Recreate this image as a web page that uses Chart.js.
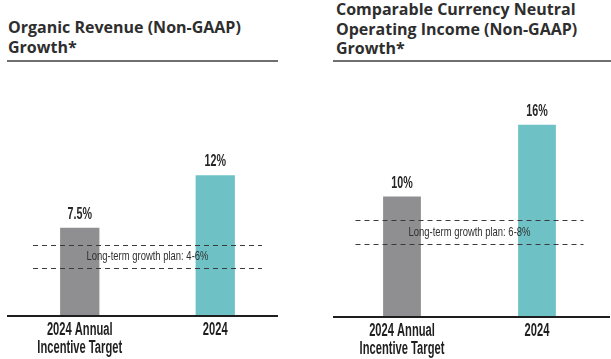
<!DOCTYPE html>
<html>
<head>
<meta charset="utf-8">
<script src="https://cdn.jsdelivr.net/npm/chart.js@4"></script>
<style>
  html, body { margin: 0; padding: 0; background: #fff; }
  body { width: 611px; height: 359px; position: relative; overflow: hidden; }
  .title {
    position: absolute;
    font-family: "Open Sans", Lato, sans-serif;
    font-weight: bold;
    font-size: 16px;
    line-height: 19.5px;
    color: #2e2e2e;
    white-space: nowrap;
  }
  .rule { position: absolute; top: 60px; height: 2px; background: #6f6f6f; }
  canvas { position: absolute; top: 70px; }
</style>
</head>
<body>
<div class="title" style="left:8px; top:18px;">Organic Revenue (Non-GAAP)<br>Growth*</div>
<div class="rule" style="left:7px; width:271px;"></div>
<div class="title" style="left:336px; top:0px;">Comparable Currency Neutral<br>Operating Income (Non-GAAP)<br>Growth*</div>
<div class="rule" style="left:333px; width:278px;"></div>

<canvas id="revenueChart" width="300" height="289" style="left:0; width:300px; height:289px;"></canvas>
<canvas id="incomeChart" width="311" height="289" style="left:300px; width:311px; height:289px;"></canvas>

<script>
// ------- data -------
const categories = [['2024 Annual', 'Incentive Target'], '2024'];
const barColors = ['#8f8f92', '#6ec2c6'];

const revenueValues = [7.5, 12];
const revenueRange = [4, 6];

const incomeValues = [10, 16];
const incomeRange = [6, 8];

const baseFont = '"Liberation Sans", Arial, sans-serif';

// the print font is a narrow condensed face, so squeeze a normal one
function narrowText(ctx, text, x, y, size, weight, squeeze) {
  ctx.save();
  ctx.font = (weight || 'normal') + ' ' + size + 'px ' + baseFont;
  ctx.translate(x, y);
  ctx.scale(squeeze, 1);
  ctx.textAlign = 'center';
  ctx.fillText(text, 0, 0);
  ctx.restore();
}

// baseline, value labels, category labels and the long-term plan band
const overlayPlugin = {
  id: 'overlay',
  afterDatasetsDraw(chart, args, opts) {
    const ctx = chart.ctx;
    const area = chart.chartArea;
    const y = chart.scales.y;
    const x = chart.scales.x;
    const meta = chart.getDatasetMeta(0);
    ctx.save();

    // value labels above bars
    ctx.fillStyle = '#262626';
    ctx.textBaseline = 'alphabetic';
    meta.data.forEach((bar, i) => {
      narrowText(ctx, chart.data.datasets[0].data[i] + '%', bar.x, bar.y - 9, 17, 'bold', 0.63);
    });

    // category labels under the axis
    ctx.fillStyle = '#1f1f1f';
    ctx.textBaseline = 'middle';
    chart.data.labels.forEach((lab, i) => {
      const lines = Array.isArray(lab) ? lab : [lab];
      const px = x.getPixelForValue(i);
      lines.forEach((ln, j) => {
        narrowText(ctx, ln, px, area.bottom + 15 + j * 18, 18, 'bold', 0.62);
      });
    });

    // dashed band lines
    const x0 = area.left + opts.dashInset;
    const x1 = area.right - opts.dashInset;
    ctx.strokeStyle = '#3a3a3a';
    ctx.lineWidth = 1;
    ctx.setLineDash([5, 4]);
    opts.range.forEach(v => {
      const py = Math.round(y.getPixelForValue(v)) + 0.5;
      ctx.beginPath();
      ctx.moveTo(x0, py);
      ctx.lineTo(x1, py);
      ctx.stroke();
    });
    ctx.setLineDash([]);

    // band label
    const midY = (y.getPixelForValue(opts.range[0]) + y.getPixelForValue(opts.range[1])) / 2;
    ctx.fillStyle = '#303030';
    ctx.textBaseline = 'middle';
    narrowText(ctx, 'Long-term growth plan: ' + opts.range[0] + '-' + opts.range[1] + '%', (x0 + x1) / 2, midY, 13.5, 'normal', 0.7);

    // baseline
    ctx.strokeStyle = '#1e1e1e';
    ctx.lineWidth = 2;
    ctx.beginPath();
    ctx.moveTo(area.left + opts.baseFrom, area.bottom + 1);
    ctx.lineTo(area.right + opts.baseTo, area.bottom + 1);
    ctx.stroke();
    ctx.restore();
  }
};

function makeChart(id, values, range, layout) {
  new Chart(document.getElementById(id).getContext('2d'), {
    type: 'bar',
    data: {
      labels: categories,
      datasets: [{
        data: values,
        backgroundColor: barColors,
        categoryPercentage: 1,
        barPercentage: layout.barPct
      }]
    },
    options: {
      responsive: false,
      animation: false,
      layout: { padding: layout.padding },
      plugins: {
        legend: { display: false },
        tooltip: { enabled: false },
        overlay: { range: range, dashInset: 21, baseFrom: layout.baseFrom, baseTo: layout.baseTo }
      },
      scales: {
        x: {
          grid: { display: false, drawTicks: false },
          border: { display: false },
          ticks: { display: false },
          afterFit(axis) { axis.height = layout.axisHeight; }
        },
        y: {
          display: false,
          min: 0,
          max: 20
        }
      }
    },
    plugins: [overlayPlugin]
  });
}

makeChart('revenueChart', revenueValues, revenueRange, {
  padding: { left: 12, right: 17, top: 12, bottom: 0 },
  axisHeight: 44,
  barPct: 0.29,
  baseFrom: -5,
  baseTo: -5
});

makeChart('incomeChart', incomeValues, incomeRange, {
  padding: { left: 34.5, right: 6.5, top: 7, bottom: 0 },
  axisHeight: 43,
  barPct: 0.28,
  baseFrom: -1.5,
  baseTo: 5.5
});
</script>
</body>
</html>
